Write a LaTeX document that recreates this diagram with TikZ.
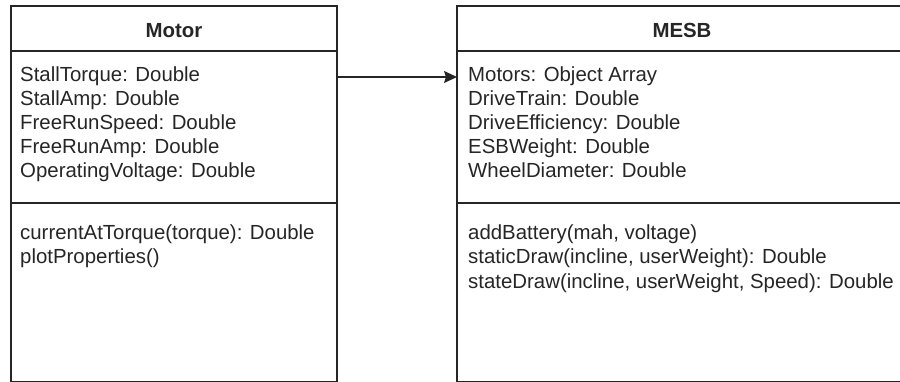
\documentclass[tikz,border=0pt]{standalone}
\usepackage{fontspec}
\setmainfont{Liberation Sans}
\usetikzlibrary{arrows.meta,calc}
\begin{document}
\begin{tikzpicture}[x=1pt,y=-1pt,
  classbox/.style={draw=black!85, line width=1.4pt, fill=white, anchor=north west, inner sep=0pt, outer sep=0pt},
  sepline/.style={draw=black!85, line width=1.4pt},
  classtitle/.style={font=\bfseries\fontsize{20.4}{24}\selectfont, text=black!85, anchor=base, inner sep=0pt},
  bodytext/.style={font=\fontsize{20.4}{24}\selectfont, text=black!85, anchor=base west, inner sep=0pt},
  assoc/.style={draw=black!85, line width=1.4pt, -{Stealth[length=13pt,width=12pt,inset=2pt]}}]
\useasboundingbox (0,0) rectangle (900,382);
\clip (0,0) rectangle (900,382);
% class boxes
\node[classbox, minimum width=326pt, minimum height=375.5pt] (motor) at (11,6) {};
\node[classbox, minimum width=450pt, minimum height=375.5pt] (mesb) at (457,6) {};
% compartments
\draw[sepline] (motor.west |- 0,51) -- (motor.east |- 0,51);
\draw[sepline] (motor.west |- 0,203) -- (motor.east |- 0,203);
\draw[sepline] (mesb.west |- 0,51) -- (mesb.east |- 0,51);
\draw[sepline] (mesb.west |- 0,203) -- (mesb.east |- 0,203);
% titles
\node[classtitle] (motorT) at (174,38) {Motor};
\node[classtitle] (mesbT) at (682,38) {MESB};
% Motor attributes
\foreach [count=\i] \t in {StallTorque: Double, StallAmp: Double, FreeRunSpeed: Double, FreeRunAmp: Double, OperatingVoltage: Double}
  \node[bodytext] (motorA\i) at (20,{82+24*(\i-1)}) {\t};
% Motor methods
\foreach [count=\i] \t in {currentAtTorque(torque): Double, plotProperties()}
  \node[bodytext] (motorM\i) at (20,{240+24*(\i-1)}) {\t};
% MESB attributes
\foreach [count=\i] \t in {Motors: Object Array, DriveTrain: Double, DriveEfficiency: Double, ESBWeight: Double, WheelDiameter: Double}
  \node[bodytext] (mesbA\i) at (468,{82+24*(\i-1)}) {\t};
% MESB methods
\foreach [count=\i] \t in {{addBattery(mah, voltage)}, {staticDraw(incline, userWeight): Double}, {stateDraw(incline, userWeight, Speed): Double}}
  \node[bodytext] (mesbM\i) at (468,{240+24*(\i-1)}) {\t};
% association
\draw[assoc] (motor.east |- 0,77) -- (mesb.west |- 0,77);
\end{tikzpicture}
\end{document}
